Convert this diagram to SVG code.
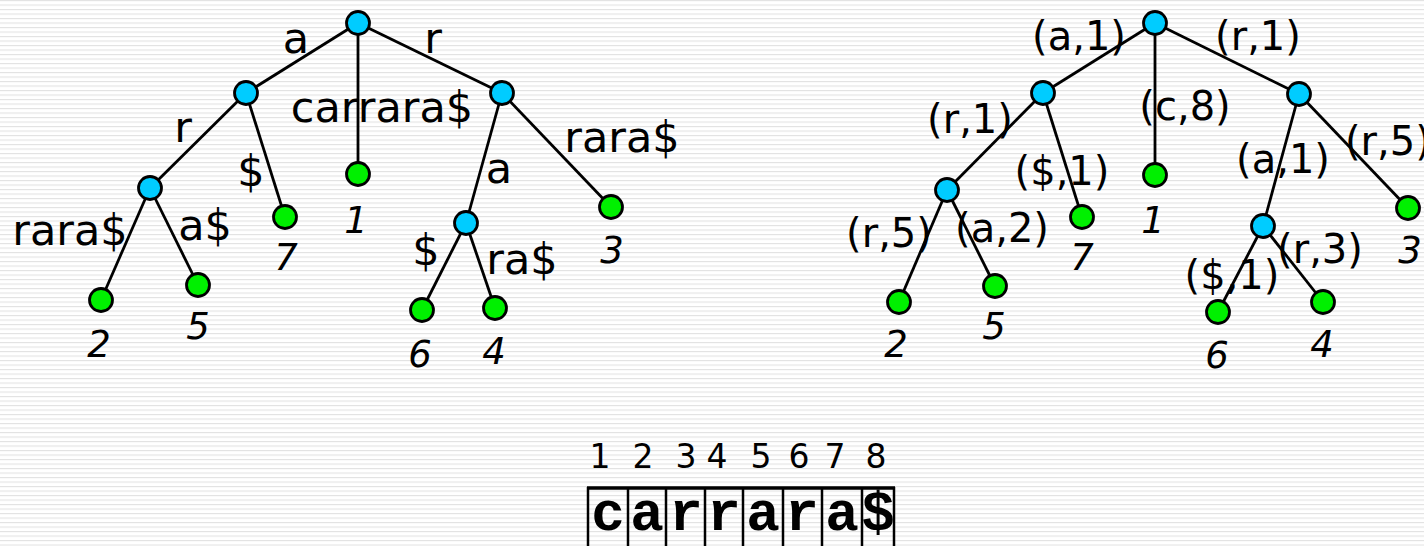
<svg xmlns="http://www.w3.org/2000/svg" width="1424" height="546" viewBox="0 0 1424 546">
<style>
.e{stroke:#000;stroke-width:2.8;fill:none}
.in{fill:#00ccff;stroke:#000;stroke-width:2.8}
.lf{fill:#00f000;stroke:#000;stroke-width:2.8}
.t{font-family:"DejaVu Sans",Verdana,sans-serif;font-size:40px;fill:#000}
.tl{font-size:43px}
.m{text-anchor:middle}
.n{font-family:"DejaVu Sans",Verdana,sans-serif;font-size:37px;font-style:italic;fill:#000;text-anchor:middle}
.idx{font-family:"DejaVu Sans",Verdana,sans-serif;font-size:33px;fill:#000;text-anchor:middle}
.ch{font-family:"Liberation Mono","Courier New",monospace;font-weight:bold;font-size:56px;fill:#000;text-anchor:middle}
.box{stroke:#000;stroke-width:2.5;fill:none}
</style>
<defs>
<pattern id="stripes" patternUnits="userSpaceOnUse" width="20" height="4.5">
<rect x="0" y="0" width="20" height="1.1" fill="#e2e2e2"/>
</pattern>
</defs>
<rect width="1424" height="546" fill="#fff"/>
<rect width="1424" height="546" fill="url(#stripes)"/>

<g id="connectors">
<line class="e" x1="358" y1="23" x2="246" y2="93"/>
<line class="e" x1="358" y1="23" x2="358" y2="174"/>
<line class="e" x1="358" y1="23" x2="502" y2="93"/>
<line class="e" x1="246" y1="93" x2="150" y2="188"/>
<line class="e" x1="246" y1="93" x2="285" y2="217"/>
<line class="e" x1="150" y1="188" x2="101" y2="300"/>
<line class="e" x1="150" y1="188" x2="198" y2="285"/>
<line class="e" x1="502" y1="93" x2="466" y2="223"/>
<line class="e" x1="502" y1="93" x2="611" y2="207"/>
<line class="e" x1="466" y1="223" x2="422" y2="310"/>
<line class="e" x1="466" y1="223" x2="495" y2="308"/>

<line class="e" x1="1155" y1="23" x2="1043" y2="93"/>
<line class="e" x1="1155" y1="23" x2="1155" y2="175"/>
<line class="e" x1="1155" y1="23" x2="1299" y2="94"/>
<line class="e" x1="1043" y1="93" x2="947" y2="190"/>
<line class="e" x1="1043" y1="93" x2="1082" y2="217"/>
<line class="e" x1="947" y1="190" x2="899" y2="302"/>
<line class="e" x1="947" y1="190" x2="995" y2="286"/>
<line class="e" x1="1299" y1="94" x2="1263" y2="226"/>
<line class="e" x1="1299" y1="94" x2="1408" y2="208"/>
<line class="e" x1="1263" y1="226" x2="1218" y2="312"/>
<line class="e" x1="1263" y1="226" x2="1323" y2="302"/>
</g>

<g id="left-labels">
<text class="t tl m" x="296" y="53">a</text>
<text class="t tl m" x="433" y="53">r</text>
<text class="t tl m" x="382" y="122">carrara$</text>
<text class="t tl m" x="183" y="142">r</text>
<text class="t tl m" x="251" y="186">$</text>
<text class="t tl m" x="70" y="245">rara$</text>
<text class="t tl m" x="205" y="240">a$</text>
<text class="t tl m" x="622" y="152">rara$</text>
<text class="t tl m" x="499" y="183">a</text>
<text class="t tl m" x="426" y="265">$</text>
<text class="t tl m" x="522" y="274">ra$</text>
</g>

<g id="right-labels">
<text class="t m" x="1079" y="50">(a,1)</text>
<text class="t m" x="1258" y="50">(r,1)</text>
<text class="t m" x="1185" y="120">(c,8)</text>
<text class="t m" x="970" y="133">(r,1)</text>
<text class="t m" x="1062" y="185">($,1)</text>
<text class="t m" x="1283" y="173">(a,1)</text>
<text class="t" x="1345" y="155">(r,5)</text>
<text class="t m" x="889" y="247">(r,5)</text>
<text class="t m" x="1002" y="242">(a,2)</text>
<text class="t m" x="1320" y="263">(r,3)</text>
<text class="t m" x="1232" y="289">($,1)</text>
</g>

<g id="L-root"><circle class="in" cx="358" cy="23" r="11.5"/></g>
<g id="L-a"><circle class="in" cx="246" cy="93" r="11.5"/></g>
<g id="L-r"><circle class="in" cx="502" cy="93" r="11.5"/></g>
<g id="L-ar"><circle class="in" cx="150" cy="188" r="11.5"/></g>
<g id="L-ra"><circle class="in" cx="466" cy="223" r="11.5"/></g>
<g id="L-leaf1"><circle class="lf" cx="358" cy="174" r="11.5"/><text class="n" x="356" y="233">1</text></g>
<g id="L-leaf7"><circle class="lf" cx="285" cy="217" r="11.5"/><text class="n" x="286" y="270">7</text></g>
<g id="L-leaf2"><circle class="lf" cx="101" cy="300" r="11.5"/><text class="n" x="99" y="357">2</text></g>
<g id="L-leaf5"><circle class="lf" cx="198" cy="285" r="11.5"/><text class="n" x="198" y="339">5</text></g>
<g id="L-leaf3"><circle class="lf" cx="611" cy="207" r="11.5"/><text class="n" x="612" y="263">3</text></g>
<g id="L-leaf6"><circle class="lf" cx="422" cy="310" r="11.5"/><text class="n" x="420" y="367">6</text></g>
<g id="L-leaf4"><circle class="lf" cx="495" cy="308" r="11.5"/><text class="n" x="494" y="364">4</text></g>

<g id="R-root"><circle class="in" cx="1155" cy="23" r="11.5"/></g>
<g id="R-a"><circle class="in" cx="1043" cy="93" r="11.5"/></g>
<g id="R-r"><circle class="in" cx="1299" cy="94" r="11.5"/></g>
<g id="R-ar"><circle class="in" cx="947" cy="190" r="11.5"/></g>
<g id="R-ra"><circle class="in" cx="1263" cy="226" r="11.5"/></g>
<g id="R-leaf1"><circle class="lf" cx="1155" cy="175" r="11.5"/><text class="n" x="1153" y="233">1</text></g>
<g id="R-leaf7"><circle class="lf" cx="1082" cy="217" r="11.5"/><text class="n" x="1082" y="270">7</text></g>
<g id="R-leaf2"><circle class="lf" cx="899" cy="302" r="11.5"/><text class="n" x="896" y="357">2</text></g>
<g id="R-leaf5"><circle class="lf" cx="995" cy="286" r="11.5"/><text class="n" x="994" y="339">5</text></g>
<g id="R-leaf3"><circle class="lf" cx="1408" cy="208" r="11.5"/><text class="n" x="1410" y="263">3</text></g>
<g id="R-leaf6"><circle class="lf" cx="1218" cy="312" r="11.5"/><text class="n" x="1217" y="368">6</text></g>
<g id="R-leaf4"><circle class="lf" cx="1323" cy="302" r="11.5"/><text class="n" x="1322" y="357">4</text></g>

<g id="string">
<text class="idx" x="600" y="468">1</text>
<text class="idx" x="643" y="468">2</text>
<text class="idx" x="686" y="468">3</text>
<text class="idx" x="717" y="468">4</text>
<text class="idx" x="761" y="468">5</text>
<text class="idx" x="799" y="468">6</text>
<text class="idx" x="835" y="468">7</text>
<text class="idx" x="876" y="468">8</text>
<line x1="587" y1="488" x2="895" y2="488" stroke="#000" stroke-width="3.5"/>
<line class="box" x1="588" y1="487" x2="588" y2="546"/>
<line class="box" x1="628" y1="487" x2="628" y2="546"/>
<line class="box" x1="666" y1="487" x2="666" y2="546"/>
<line class="box" x1="705" y1="487" x2="705" y2="546"/>
<line class="box" x1="743" y1="487" x2="743" y2="546"/>
<line class="box" x1="783" y1="487" x2="783" y2="546"/>
<line class="box" x1="822" y1="487" x2="822" y2="546"/>
<line class="box" x1="862" y1="487" x2="862" y2="546"/>
<line class="box" x1="894" y1="487" x2="894" y2="546"/>
<text class="ch" x="608" y="530">c</text>
<text class="ch" x="647" y="530">a</text>
<text class="ch" x="686" y="530">r</text>
<text class="ch" x="724" y="530">r</text>
<text class="ch" x="763" y="530">a</text>
<text class="ch" x="802" y="530">r</text>
<text class="ch" x="842" y="530">a</text>
<text class="ch" x="878" y="530">$</text>
</g>
</svg>
